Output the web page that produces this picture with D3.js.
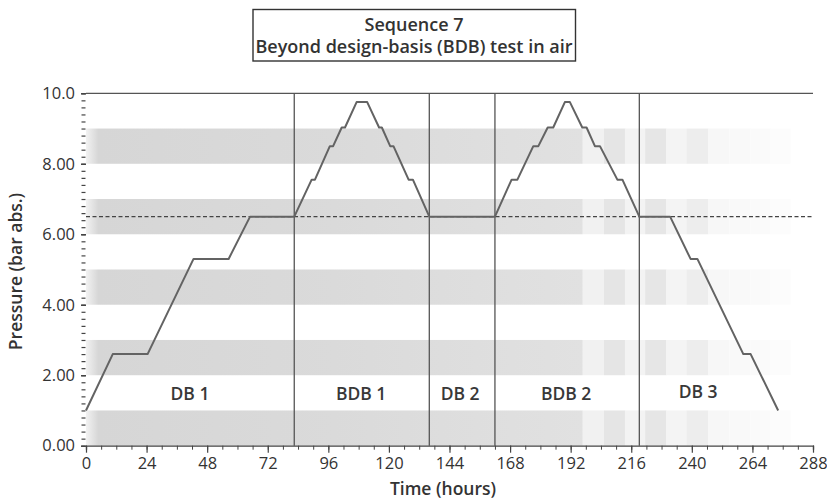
<!DOCTYPE html>
<html><head><meta charset="utf-8">
<script src="https://cdn.jsdelivr.net/npm/d3@7/dist/d3.min.js"></script>
<style>
html,body{margin:0;padding:0;background:#fff;}
svg{display:block;font-family:"Open Sans","Noto Sans",sans-serif;}
</style></head>
<body>
<svg id="chart" width="827" height="502"></svg>
<script>
// ---------- data ----------
const titleLines = ["Sequence 7", "Beyond design-basis (BDB) test in air"];
const xLabel = "Time (hours)";
const yLabel = "Pressure (bar abs.)";
const xTicks = [0, 24, 48, 72, 96, 120, 144, 168, 192, 216, 240, 264, 288];
const yTicks = [0, 2, 4, 6, 8, 10];
const yTickLabels = ["0.00", "2.00", "4.00", "6.00", "8.00", "10.0"];
const hours = [0, 10.6, 24.4, 42.6, 56.5, 65, 82.5, 89.4, 90.7, 96.6, 97.9, 101.3, 102.6, 107.2, 111.4,
  116.1, 117.2, 120.5, 121.8, 127.8, 129.5, 136, 162, 168.6, 170.9, 177.2, 179.2, 182.9, 185.1, 189.7,
  191.7, 196.6, 198.3, 201.6, 203.6, 210.5, 212.5, 219.2, 231.4, 239.5, 242.2, 260.4, 263.3, 274.2];
const pressure = [1.0, 2.6, 2.6, 5.3, 5.3, 6.5, 6.5, 7.55, 7.55, 8.5, 8.5, 9.03, 9.03, 9.75, 9.75,
  9.03, 9.03, 8.5, 8.5, 7.55, 7.55, 6.5, 6.5, 7.55, 7.55, 8.5, 8.5, 9.03, 9.03, 9.75,
  9.75, 9.03, 9.03, 8.5, 8.5, 7.55, 7.55, 6.5, 6.5, 5.3, 5.3, 2.6, 2.6, 1.0];
const phaseBounds = [82.5, 136, 162, 219.2];
const phaseNames = ["DB 1", "BDB 1", "DB 2", "BDB 2", "DB 3"];
const phaseLabelHour = [41.2, 109, 148.2, 190.2, 242.5];
const phaseLabelP = [1.3, 1.3, 1.3, 1.3, 1.36];
const refPressure = 6.5;
const bandLow = [0, 2, 4, 6, 8];
const bandHigh = [1, 3, 5, 7, 9];
// fading band blocks (hour edges) after the solid part
const blockEdges = [196.8, 205.2, 213.5, 221.5, 229.8, 238, 246.4, 254.8, 263.2, 271.1, 279];
const blockShade = ["#f1f1f1", "#e5e5e5", "#f3f3f3", "#e6e6e6", "#f4f4f4", "#ededed", "#f7f7f7", "#f9f9f9", "#fafafa", "#fcfcfc"];

// ---------- chart ----------
const svg = d3.select("#chart");
const x = d3.scaleLinear().domain([0, 288]).range([86, 813]);
const y = d3.scaleLinear().domain([0, 10]).range([445.7, 93.3]);

const defs = svg.append("defs");
const grad = defs.append("linearGradient").attr("id", "bandGrad")
  .attr("gradientUnits", "userSpaceOnUse")
  .attr("x1", x(0)).attr("x2", x(blockEdges[0])).attr("y1", 0).attr("y2", 0);
grad.append("stop").attr("offset", 0).attr("stop-color", "#f2f2f2");
grad.append("stop").attr("offset", 0.025).attr("stop-color", "#d6d6d6");
grad.append("stop").attr("offset", 0.5).attr("stop-color", "#dadada");
grad.append("stop").attr("offset", 1).attr("stop-color", "#e1e1e1");

const bands = svg.append("g");
bandLow.forEach((lo, i) => {
  const hi = bandHigh[i];
  bands.append("rect")
    .attr("x", x(0)).attr("width", x(blockEdges[0]) - x(0))
    .attr("y", y(hi)).attr("height", y(lo) - y(hi))
    .attr("fill", "url(#bandGrad)");
  for (let k = 0; k < blockEdges.length - 1; k++) {
    bands.append("rect")
      .attr("x", x(blockEdges[k])).attr("width", x(blockEdges[k + 1]) - x(blockEdges[k]) + 0.3)
      .attr("y", y(hi)).attr("height", y(lo) - y(hi))
      .attr("fill", blockShade[k]);
  }
});

// top frame line
svg.append("line").attr("x1", x(0)).attr("x2", x(288)).attr("y1", y(10)).attr("y2", y(10))
  .attr("stroke", "#555").attr("stroke-width", 1.3);

// phase boundaries
svg.append("g").selectAll("line").data(phaseBounds).join("line")
  .attr("x1", d => x(d)).attr("x2", d => x(d)).attr("y1", y(10)).attr("y2", y(0))
  .attr("stroke", "#555").attr("stroke-width", 1.3);

// reference dashed line
svg.append("line").attr("x1", x(0)).attr("x2", x(288)).attr("y1", y(refPressure)).attr("y2", y(refPressure))
  .attr("stroke", "#444").attr("stroke-width", 1.2).attr("stroke-dasharray", "4,2.5");

// pressure profile
const line = d3.line().x(d => x(d[0])).y(d => y(d[1]));
svg.append("path").datum(hours.map((h, i) => [h, pressure[i]]))
  .attr("d", line).attr("fill", "none").attr("stroke", "#636363").attr("stroke-width", 2)
  .attr("stroke-linejoin", "round");

// phase labels
svg.append("g").selectAll("text").data(phaseNames).join("text")
  .attr("x", (d, i) => x(phaseLabelHour[i])).attr("y", (d, i) => y(phaseLabelP[i]))
  .attr("text-anchor", "middle").attr("font-size", 17.5).attr("font-weight", 600)
  .attr("fill", "#383838").text(d => d);

// x axis
const xAxisG = svg.append("g").attr("transform", `translate(0,${y(0)})`);
xAxisG.call(d3.axisBottom(x).tickValues(d3.range(0, 289, 6)).tickSize(4).tickFormat(""));
xAxisG.call(g => g.selectAll(".tick line").attr("stroke", "#444"));
xAxisG.select(".domain").attr("stroke", "#444").attr("stroke-width", 1.3);
const xMajor = svg.append("g").attr("transform", `translate(0,${y(0)})`)
  .call(d3.axisBottom(x).tickValues(xTicks).tickSize(7).tickPadding(5).tickFormat(d3.format("d")));
xMajor.select(".domain").remove();
xMajor.selectAll(".tick line").attr("stroke", "#444").attr("stroke-width", 1.2);
xMajor.selectAll(".tick text").attr("font-size", 16.5).attr("fill", "#333")
  .attr("font-family", "'Open Sans','Noto Sans',sans-serif");

// y axis (ticks only)
const yMinor = svg.append("g").attr("transform", `translate(${x(0)},0)`)
  .call(d3.axisLeft(y).tickValues(d3.range(0, 10.01, 0.2)).tickSize(4).tickFormat(""));
yMinor.select(".domain").remove();
yMinor.selectAll(".tick line").attr("stroke", "#444").attr("stroke-width", 1.2).attr("transform", "translate(-0.5,0)");
const yMajor = svg.append("g").attr("transform", `translate(${x(0)},0)`)
  .call(d3.axisLeft(y).tickValues(yTicks).tickSize(5).tickPadding(6).tickFormat((d, i) => yTickLabels[i]));
yMajor.select(".domain").remove();
yMajor.selectAll(".tick line").attr("stroke", "#444").attr("stroke-width", 1.5);
yMajor.selectAll(".tick text").attr("font-size", 16.5).attr("fill", "#333")
  .attr("font-family", "'Open Sans','Noto Sans',sans-serif");

// axis titles
svg.append("text").attr("x", 443).attr("y", 495).attr("text-anchor", "middle")
  .attr("font-size", 17.5).attr("font-weight", 600).attr("fill", "#333").text(xLabel);
svg.append("text").attr("transform", `translate(22,${(y(0) + y(10)) / 2 + 2}) rotate(-90)`)
  .attr("text-anchor", "middle").attr("font-size", 17.5).attr("font-weight", 600)
  .attr("fill", "#333").text(yLabel);

// title box
svg.append("rect").attr("x", 253).attr("y", 9.5).attr("width", 322.5).attr("height", 51.5)
  .attr("fill", "#fff").attr("stroke", "#333").attr("stroke-width", 1.4);
svg.append("g").selectAll("text").data(titleLines).join("text")
  .attr("x", 414).attr("y", (d, i) => 30.5 + i * 22).attr("text-anchor", "middle")
  .attr("font-size", 18).attr("font-weight", 600).attr("fill", "#333").text(d => d);
</script>
</body></html>
